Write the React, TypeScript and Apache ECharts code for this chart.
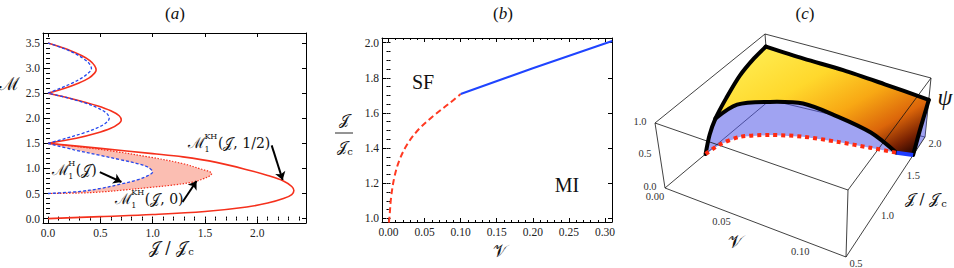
import React, { useEffect, useRef } from "react";
import * as echarts from "echarts";

type P = [number, number];

const FONT = "'Liberation Serif', 'Times New Roman', serif";
const MATH = "'DejaVu Serif', 'Liberation Serif', serif";

// ---------------- Panel (a): [J/Jc, M] ----------------
const aXTicks = [0, 0.5, 1.0, 1.5, 2.0];
const aYTicks = [0, 0.5, 1.0, 1.5, 2.0, 2.5, 3.0, 3.5];
const redLobe0: P[] = [
  [0, 0], [0.5, 0.04], [1.0, 0.08], [1.5, 0.14], [1.9, 0.23], [2.1, 0.31], [2.25, 0.4], [2.33, 0.48],
  [2.35, 0.56], [2.33, 0.64], [2.25, 0.75], [2.1, 0.86], [1.93, 0.96], [1.61, 1.12], [1.29, 1.23],
  [1.0, 1.295], [0.5, 1.4], [0, 1.5],
];
const redLobe2: P[] = [
  [0, 1.5], [0.27, 1.6], [0.46, 1.7], [0.6, 1.8], [0.68, 1.9], [0.7, 1.96], [0.68, 2.05],
  [0.6, 2.15], [0.47, 2.25], [0.3, 2.35], [0.13, 2.44], [0, 2.5],
];
const redLobe3: P[] = [
  [0, 2.5], [0.16, 2.6], [0.29, 2.7], [0.39, 2.8], [0.445, 2.9], [0.46, 2.96], [0.445, 3.05],
  [0.4, 3.15], [0.32, 3.25], [0.21, 3.35], [0.09, 3.44], [0, 3.5],
];
const blueLobe1: P[] = [
  [0, 0.5], [0.3, 0.54], [0.5, 0.6], [0.7, 0.69], [0.85, 0.77], [0.95, 0.85], [1.0, 0.93],
  [0.96, 1.02], [0.87, 1.09], [0.7, 1.17], [0.5, 1.26], [0.25, 1.37], [0, 1.5],
];
const blueLobe2: P[] = [
  [0, 1.5], [0.17, 1.6], [0.33, 1.7], [0.46, 1.8], [0.55, 1.9], [0.585, 2.0], [0.56, 2.1],
  [0.48, 2.2], [0.36, 2.3], [0.2, 2.4], [0, 2.5],
];
const blueLobe3: P[] = [
  [0, 2.5], [0.12, 2.6], [0.23, 2.7], [0.32, 2.8], [0.385, 2.9], [0.415, 2.99], [0.39, 3.1],
  [0.33, 3.2], [0.25, 3.3], [0.14, 3.4], [0, 3.5],
];
const redDotLobe1: P[] = [
  [0, 0.5], [0.3, 0.51], [0.5, 0.53], [0.7, 0.565], [0.97, 0.62], [1.2, 0.67], [1.39, 0.73],
  [1.48, 0.79], [1.545, 0.85], [1.565, 0.9], [1.54, 0.94], [1.48, 0.976], [1.29, 1.095],
  [0.97, 1.227], [0.6, 1.35], [0.3, 1.43], [0, 1.5],
];
const aNotes = [
  { J: 0.035, M: 0.962, sup: "H", args: "(𝒥)" },
  { J: 0.638, M: 0.384, sup: "KH", args: "(𝒥, 0)" },
  { J: 1.337, M: 1.5, sup: "KH", args: "(𝒥, 1/2)" },
];
const aArrows: [P, P][] = [
  [[0.495, 0.928], [0.702, 0.729]],
  [[1.286, 0.331], [1.42, 0.749]],
  [[2.138, 1.46], [2.243, 0.77]],
];

// ---------------- Panel (b): [V, J/Jc] ----------------
const bXTicks = [0, 0.05, 0.1, 0.15, 0.2, 0.25, 0.3];
const bYTicks = [1.0, 1.2, 1.4, 1.6, 1.8, 2.0];
const bFirstOrder: P[] = [
  [0.0005, 0.975], [0.0014, 1.009], [0.0037, 1.123], [0.0083, 1.237], [0.0152, 1.332], [0.0268, 1.427],
  [0.043, 1.512], [0.0637, 1.588], [0.0845, 1.655], [0.1, 1.708],
];
const bSecondOrder: P[] = [[0.1, 1.708], [0.2, 1.855], [0.31, 2.01]];

// ---------------- Panel (c): 3D (V, J/Jc, psi) ----------------
const cVTicks = [0, 0.05, 0.1];
const cJTicks = [0.5, 1.0, 1.5, 2.0];
const cPsiTicks = [0, 0.5, 1.0];
// phase boundary on the floor (psi = 0)
const cFloorV = [0, 0.002, 0.009, 0.0265, 0.048, 0.071, 0.093, 0.11];
const cFloorJ = [1.0, 1.17, 1.34, 1.476, 1.575, 1.628, 1.665, 1.69];
const cFloor2V = [0.11, 0.12];
const cFloor2J = [1.69, 1.715];
// top of the jump (first-order part)
const cArcV = [0, 0.009, 0.0265, 0.048, 0.071, 0.093, 0.11];
const cArcJ = [1.18, 1.34, 1.476, 1.575, 1.628, 1.665, 1.69];
const cArcPsi = [0.38, 0.5, 0.52, 0.53, 0.41, 0.25, 0];
// surface edge at V = 0
const cLeftJ = [1.0, 1.08, 1.18, 1.35, 1.57, 1.8, 2.0];
const cLeftPsi = [0, 0.22, 0.38, 0.54, 0.7, 0.78, 0.81];
// surface edge at J/Jc = 2
const cTopV = [0, 0.03, 0.06, 0.09, 0.12];
const cTopPsi = [0.81, 0.775, 0.755, 0.7, 0.63];
// surface edge at V = 0.12
const cRightJ = [1.715, 1.75, 1.83, 1.92, 2.0];
const cRightPsi = [0, 0.08, 0.27, 0.455, 0.63];

// box range and its projected corners (layout)
const cRange = { v0: 0, v1: 0.12, j0: 0.5, j1: 2.0, p0: 0, p1: 1.0 };
const cFloorQuad: P[] = [[665, 188], [846, 257], [925, 137], [770, 100]];
const cCeilQuad: P[] = [[655, 123], [848, 190], [931, 78], [765, 34]];

function makeQuad(q: P[]) {
  const [p0, p1, p2, p3] = q;
  const sx = p0[0] - p1[0] + p2[0] - p3[0];
  const sy = p0[1] - p1[1] + p2[1] - p3[1];
  const dx1 = p1[0] - p2[0], dx2 = p3[0] - p2[0], dy1 = p1[1] - p2[1], dy2 = p3[1] - p2[1];
  const den = dx1 * dy2 - dx2 * dy1;
  const g = (sx * dy2 - dx2 * sy) / den;
  const h = (dx1 * sy - sx * dy1) / den;
  const a = p1[0] - p0[0] + g * p1[0], b = p3[0] - p0[0] + h * p3[0], c = p0[0];
  const d = p1[1] - p0[1] + g * p1[1], e = p3[1] - p0[1] + h * p3[1], f = p0[1];
  return (u: number, w: number): P => {
    const s = g * u + h * w + 1;
    return [(a * u + b * w + c) / s, (d * u + e * w + f) / s];
  };
}
const floorMap = makeQuad(cFloorQuad);
const ceilMap = makeQuad(cCeilQuad);
function proj(V: number, J: number, psi: number): P {
  const u = (V - cRange.v0) / (cRange.v1 - cRange.v0);
  const w = (J - cRange.j0) / (cRange.j1 - cRange.j0);
  const s = (psi - cRange.p0) / (cRange.p1 - cRange.p0);
  const f = floorMap(u, w), c = ceilMap(u, w);
  return [f[0] + s * (c[0] - f[0]), f[1] + s * (c[1] - f[1])];
}

function ticksBetween(a: number, b: number, step: number) {
  const out: number[] = [];
  const n = Math.round((b - a) / step);
  for (let i = 0; i <= n; i++) out.push(+(a + i * step).toFixed(4));
  return out;
}

function frameAxes(kind: "x" | "y", gridIndex: number, min: number, max: number, major: number[], minor: number[], digits: number) {
  const pos = kind === "x" ? ["bottom", "top"] : ["left", "right"];
  const base = { gridIndex, type: "value", min, max, splitLine: { show: false } };
  const line = { show: true, onZero: false, lineStyle: { color: "#000", width: 1 } };
  const tick = (vals: number[], len: number) => ({ show: true, inside: true, length: len, customValues: vals, lineStyle: { color: "#000", width: 1 } });
  return [
    { ...base, position: pos[0], axisLine: line, axisTick: tick(major, 4),
      axisLabel: { show: true, customValues: major, formatter: (v: number) => v.toFixed(digits), fontFamily: FONT, fontSize: 11.5, color: "#222", margin: kind === "x" ? 4 : 3 } },
    { ...base, position: pos[0], axisLine: { show: false }, axisTick: tick(minor, 2), axisLabel: { show: false } },
    { ...base, position: pos[1], axisLine: line, axisTick: tick(major, 4), axisLabel: { show: false } },
    { ...base, position: pos[1], axisLine: { show: false }, axisTick: tick(minor, 2), axisLabel: { show: false } },
  ];
}

function txt(x: number, y: number, text: string, size: number, opts: any = {}) {
  return {
    type: "text", x, y, z: 50, silent: true,
    style: {
      text, fill: opts.fill || "#111", font: `${opts.italic ? "italic " : ""}${size}px ${opts.family || MATH}`,
      align: opts.align || "center", textAlign: opts.align || "center",
      verticalAlign: "middle", textVerticalAlign: "middle",
    },
  };
}

function notePieces(sup: string, args: string) {
  const supW = sup.length * 6;
  return [
    { t: "ℳ", dx: 0, dy: 0, size: 15 },
    { t: sup, dx: 16.5, dy: -7, size: 8 },
    { t: "1", dx: 16.5, dy: 6, size: 8 },
    { t: args, dx: 18 + supW, dy: 0, size: 14 },
  ];
}

export default function App() {
  const ref = useRef<HTMLDivElement>(null);
  useEffect(() => {
    if (!ref.current) return;
    const chart = echarts.init(ref.current, undefined, { renderer: "svg" });

    const aXMinor = ticksBetween(0, 2.4, 0.1);
    const aYMinor = ticksBetween(0, 3.6, 0.1);
    const bXMinor = ticksBetween(0, 0.3, 0.01);
    const bYMinor = ticksBetween(1.0, 2.0, 0.05);

    const RED = "#f5301c";
    const BLUE = "#2346ee";

    const lineS = (data: P[], color: string, width: number, type: any, xi: number, z = 3) => ({
      type: "line", xAxisIndex: xi, yAxisIndex: xi, data, showSymbol: false, smooth: 0.35, z,
      lineStyle: { color, width, type }, silent: true, animation: false,
    });

    // ---- panel (c) graphics ----
    const g: any[] = [];
    const P3 = (V: number, J: number, psi: number) => proj(V, J, psi);
    const { v0, v1, j0, j1, p0, p1 } = cRange;
    const corner = {
      A: P3(v0, j0, p0), B: P3(v1, j0, p0), C: P3(v1, j1, p0), D: P3(v0, j1, p0),
      E: P3(v0, j0, p1), F: P3(v1, j0, p1), G: P3(v1, j1, p1), H: P3(v0, j1, p1),
    };
    const edge = (a: P, b: P, z: number) => ({
      type: "line", z, silent: true, shape: { x1: a[0], y1: a[1], x2: b[0], y2: b[1] },
      style: { stroke: "#111", lineWidth: 0.8 },
    });
    g.push(edge(corner.A, corner.D, 5), edge(corner.D, corner.C, 5), edge(corner.D, corner.H, 5), edge(corner.H, corner.G, 5), edge(corner.C, corner.G, 5));

    const floorPts = cFloorV.map((v, i) => P3(v, cFloorJ[i], 0));
    const floor2Pts = cFloor2V.map((v, i) => P3(v, cFloor2J[i], 0));
    const arcPts = cArcV.map((v, i) => P3(v, cArcJ[i], cArcPsi[i]));
    const leftPts = cLeftJ.map((j, i) => P3(0, j, cLeftPsi[i]));
    const topPts = cTopV.map((v, i) => P3(v, 2.0, cTopPsi[i]));
    const rightPts = cRightJ.map((j, i) => P3(0.12, j, cRightPsi[i]));

    const BLUEFILL = "rgba(82,88,232,0.55)";
    const curtain = [...leftPts.slice(0, 3), ...arcPts.slice(1), ...floorPts.slice().reverse()];
    g.push({ type: "polygon", z: 10, silent: true, shape: { points: curtain }, style: { fill: BLUEFILL } });
    const side = [...rightPts, P3(0.12, 2.0, 0)];
    g.push({ type: "polygon", z: 10, silent: true, shape: { points: side }, style: { fill: BLUEFILL } });
    const surf = [
      ...leftPts.slice(2), ...topPts.slice(1), ...rightPts.slice().reverse().slice(1),
      ...floor2Pts.slice().reverse().slice(1), ...arcPts.slice().reverse().slice(1),
    ];
    g.push({
      type: "polygon", z: 12, silent: true, shape: { points: surf },
      style: {
        fill: new echarts.graphic.LinearGradient(0, 0, 1, 0.9, [
          { offset: 0, color: "#fff45e" }, { offset: 0.4, color: "#ffd82c" },
          { offset: 0.62, color: "#f8a814" }, { offset: 0.8, color: "#dc660a" },
          { offset: 0.92, color: "#7a2202" }, { offset: 1, color: "#2a0500" },
        ]),
      },
    });
    g.push(edge(corner.A, corner.B, 20), edge(corner.B, corner.C, 20), edge(corner.A, corner.E, 20), edge(corner.E, corner.F, 20),
      edge(corner.B, corner.F, 20), edge(corner.F, corner.G, 20), edge(corner.E, corner.H, 20));
    const thick = (pts: P[]) => ({ type: "polyline", z: 25, silent: true, shape: { points: pts, smooth: 0.3 }, style: { stroke: "#000", lineWidth: 4, fill: "none", lineJoin: "round", lineCap: "round" } });
    g.push(thick(leftPts), thick(topPts), thick(rightPts), thick(arcPts));
    g.push({ type: "polyline", z: 27, silent: true, shape: { points: floorPts, smooth: 0.3 }, style: { stroke: "#ff2a10", lineWidth: 4, lineDash: [4, 4], fill: "none" } });
    g.push({ type: "polyline", z: 27, silent: true, shape: { points: floor2Pts }, style: { stroke: "#1f3cff", lineWidth: 4, fill: "none" } });
    cVTicks.forEach((v) => { const p = P3(v, j0, p0); g.push(txt(p[0] - 10, p[1] + 8, v.toFixed(2), 10.5, { family: FONT, fill: "#333" })); });
    cJTicks.forEach((j) => { const p = P3(v1, j, p0); g.push(txt(p[0] + 10, p[1] + 6, j.toFixed(1), 10.5, { family: FONT, fill: "#333" })); });
    cPsiTicks.forEach((s) => { const p = P3(v0, j0, s); g.push(txt(p[0] - 15, p[1] - 2, s.toFixed(1), 10.5, { family: FONT, fill: "#333" })); });

    const title = (x: number, letter: string) => ({
      type: "text", x, y: 13, z: 50, silent: true,
      style: {
        text: `{p|(}{i|${letter}}{p|)}`, align: "center", textAlign: "center", verticalAlign: "middle", textVerticalAlign: "middle",
        rich: { p: { fontFamily: FONT, fontSize: 17, fill: "#111", color: "#111" }, i: { fontFamily: FONT, fontSize: 17, fontStyle: "italic", fill: "#111", color: "#111" } },
      },
    });
    g.push(title(175, "a"), title(503, "b"), title(805, "c"));

    g.push(txt(9, 83, "ℳ", 18));
    g.push(txt(168, 247, "𝒥 / 𝒥", 16), txt(191, 251, "c", 10));
    g.push(txt(344, 120, "𝒥", 15), { type: "line", z: 50, silent: true, shape: { x1: 335, y1: 133, x2: 353, y2: 133 }, style: { stroke: "#111", lineWidth: 0.9 } },
      txt(342, 147, "𝒥", 15), txt(350, 151, "c", 10));
    g.push(txt(500, 251, "𝒱", 17));
    g.push(txt(423, 82, "SF", 20, { family: FONT }), txt(567, 185, "MI", 20, { family: FONT }));
    g.push(txt(735, 241, "𝒱", 18));
    g.push(txt(922, 199, "𝒥 / 𝒥", 15), txt(944, 203, "c", 10));
    g.push(txt(945, 97, "ψ", 24, { italic: true, family: FONT }));

    const option: any = {
      animation: false,
      backgroundColor: "#fff",
      grid: [
        { left: 43, top: 33, width: 263, height: 190, outerBoundsMode: "none", containLabel: false },
        { left: 382, top: 38, width: 230, height: 184, outerBoundsMode: "none", containLabel: false },
      ],
      xAxis: [
        ...frameAxes("x", 0, -0.048, 2.466, aXTicks, aXMinor, 1),
        ...frameAxes("x", 1, -0.009, 0.3097, bXTicks, bXMinor, 2),
      ],
      yAxis: [
        ...frameAxes("y", 0, -0.088, 3.7, aYTicks, aYMinor, 1),
        ...frameAxes("y", 1, 0.979, 2.027, bYTicks, bYMinor, 1),
      ],
      series: [
        {
          type: "custom", xAxisIndex: 0, yAxisIndex: 0, z: 1, silent: true, data: [[0, 0]],
          renderItem: (_p: any, api: any) => ({
            type: "polygon",
            shape: { points: [...redDotLobe1, ...blueLobe1.slice().reverse()].map((p) => api.coord(p)) },
            style: { fill: "#fbbeb2" },
          }),
        },
        {
          ...lineS(redLobe0, RED, 1.6, "solid", 0),
          markLine: {
            silent: true, animation: false, symbol: ["none", "arrow"], symbolSize: 8,
            label: { show: false }, lineStyle: { color: "#000", width: 2, type: "solid" },
            emphasis: { disabled: true },
            data: aArrows.map(([s, e]) => [{ coord: s }, { coord: e }]),
          },
        },
        lineS(redLobe2, RED, 1.6, "solid", 0),
        lineS(redLobe3, RED, 1.6, "solid", 0),
        lineS(redDotLobe1, RED, 1.2, [1.5, 1.5], 0),
        lineS(blueLobe1, BLUE, 1.3, [3, 2], 0),
        lineS(blueLobe2, BLUE, 1.3, [3, 2], 0),
        lineS(blueLobe3, BLUE, 1.3, [3, 2], 0),
        {
          type: "custom", xAxisIndex: 0, yAxisIndex: 0, z: 10, silent: true,
          data: aNotes.map((n) => [n.J, n.M]),
          renderItem: (params: any, api: any) => {
            const n = aNotes[params.dataIndex];
            const [x, y] = api.coord([api.value(0), api.value(1)]);
            return {
              type: "group", x, y,
              children: notePieces(n.sup, n.args).map((pc) => ({
                type: "text", x: pc.dx, y: pc.dy,
                style: { text: pc.t, fill: "#111", font: `${pc.size}px ${MATH}`, textAlign: "left", textVerticalAlign: "middle", align: "left", verticalAlign: "middle" },
              })),
            };
          },
        },
        lineS(bFirstOrder, "#ff3a22", 2, [6, 3.5], 4),
        { ...lineS(bSecondOrder, "#1f44ff", 2, "solid", 4), smooth: false },
      ],
      graphic: g,
    };
    chart.setOption(option);
    return () => chart.dispose();
  }, []);
  return <div ref={ref} style={{ position: "fixed", left: 0, top: 0, width: 954, height: 268, background: "#fff" }} />;
}
